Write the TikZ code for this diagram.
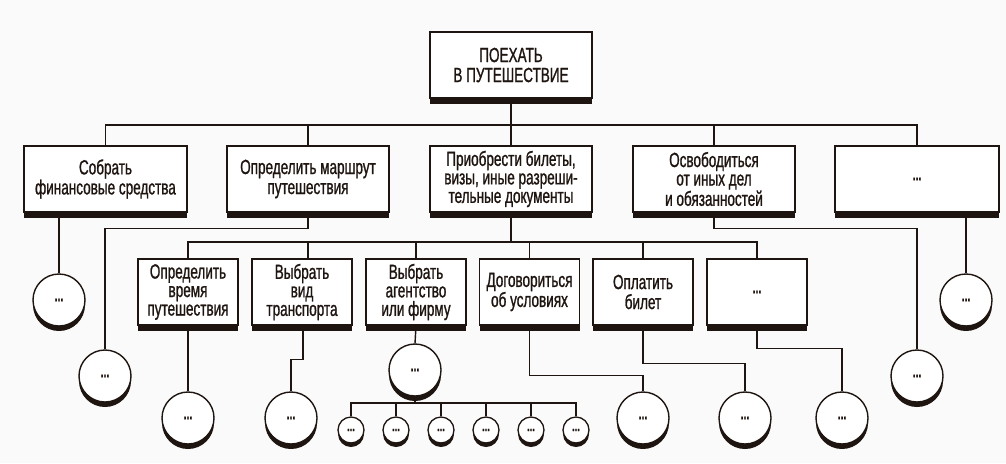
\documentclass[tikz,border=0pt]{standalone}
\usepackage{fontspec}
\setmainfont{Liberation Sans}[FakeStretch=0.66,FakeBold=1.0]
\usetikzlibrary{shadows,calc}
\definecolor{ink}{HTML}{1E1410}
\definecolor{bg}{HTML}{FAFAFA}
\begin{document}
\begin{tikzpicture}[x=1pt,y=-1pt,
  every node/.style={font=\fontsize{20.5}{20}\selectfont, text=ink},
  three/.style={font=\fontsize{20.5}{18.5}\selectfont},
  wbox/.style={draw=ink, line width=1.4pt, fill=white, rectangle, inner sep=0pt,
    align=center, minimum height=66pt,
    drop shadow={shadow xshift=0pt, shadow yshift=-5.5pt, opacity=1, fill=ink}},
  bigc/.style={draw=ink, line width=1.4pt, fill=white, circle, inner sep=0pt,
    minimum size=52pt, font=\fontsize{16}{16}\selectfont\bfseries,
    drop shadow={shadow xshift=0pt, shadow yshift=-5pt, opacity=1, fill=ink}},
  smallc/.style={draw=ink, line width=1.3pt, fill=white, circle, inner sep=0pt,
    minimum size=26pt, font=\fontsize{14}{14}\selectfont\bfseries,
    drop shadow={shadow xshift=0pt, shadow yshift=-4pt, opacity=1, fill=ink}},
  conn/.style={draw=ink, line width=1.4pt}]
\fill[bg] (0,0) rectangle (1006,463);
\useasboundingbox (0,0) rectangle (1006,463);

% top
\node[wbox, minimum width=162pt] (T) at (511,65) {ПОЕХАТЬ\\В ПУТЕШЕСТВИЕ};
% level 1
\node[wbox, minimum width=163pt] (A) at (105.5,179) {Собрать\\финансовые средства};
\node[wbox, minimum width=162pt] (B) at (308,179) {Определить маршрут\\путешествия};
\node[wbox, three, minimum width=162pt] (C) at (511,179) {Приобрести билеты,\\визы, иные разреши-\\тельные документы};
\node[wbox, three, minimum width=162pt] (D) at (714,179) {Освободиться\\от иных дел\\и обязанностей};
\node[wbox, minimum width=164pt] (E) at (917,179) {\fontsize{16}{16}\selectfont\bfseries ...};
% level 2
\node[wbox, three, minimum width=100pt] (F) at (188,292) {Определить\\время\\путешествия};
\node[wbox, three, minimum width=100pt] (G) at (302,292) {Выбрать\\вид\\транспорта};
\node[wbox, three, minimum width=100pt] (H) at (416,292) {Выбрать\\агентство\\или фирму};
\node[wbox, minimum width=100pt] (I) at (529.5,292) {Договориться\\об условиях};
\node[wbox, minimum width=100pt] (J) at (643,292) {Оплатить\\билет};
\node[wbox, minimum width=100pt] (K) at (757,292) {\fontsize{16}{16}\selectfont\bfseries ...};

% circles
\node[bigc] (cA) at (59,300) {...};
\node[bigc] (cB) at (105,376) {...};
\node[bigc] (cD) at (917,376) {...};
\node[bigc] (cE) at (966,300) {...};
\node[bigc] (cF) at (188,418) {...};
\node[bigc] (cG) at (291,418) {...};
\node[bigc] (cH) at (415,370) {...};
\node[bigc] (cI) at (643,418) {...};
\node[bigc] (cJ) at (745,418) {...};
\node[bigc] (cK) at (842,418) {...};
\foreach \i/\x in {1/351,2/396,3/441,4/486,5/531,6/576}
  \node[smallc] (s\i) at (\x,430) {...};

% buses
\coordinate (bus1) at (511,125);
\coordinate (bus2) at (511,242);
\coordinate (bus3) at (415,403);

\draw[conn] (T.south) -- (C.north);
\draw[conn] (A.north) |- (bus1) -| (E.north);
\draw[conn] (B.north) -- (B.north |- bus1);
\draw[conn] (D.north) -- (D.north |- bus1);

\draw[conn] (C.south) -- (bus2);
\draw[conn] (F.north) |- (bus2) -| (K.north);
\draw[conn] ([xshift=6pt]G.north) -- ([xshift=6pt]G.north |- bus2);
\draw[conn] (H.north) -- (H.north |- bus2);
\draw[conn] (I.north) -- (I.north |- bus2);
\draw[conn] (J.north) -- (J.north |- bus2);

\draw[conn] (cA.north |- A.south) -- (cA.north);
\draw[conn] (B.south) -- ++(0,16) -| (cB.north);
\draw[conn] (D.south) -- ++(0,16) -| (cD.north);
\draw[conn] (cE.north |- E.south) -- (cE.north);

\draw[conn] (F.south) -- (cF.north);
\draw[conn] ([xshift=1pt]G.south) -- ++(0,34) -| (cG.north);
\draw[conn] (H.south) -- (cH.north);
\draw[conn] (cH.south) -- (bus3);
\draw[conn] (s1.north) |- (bus3) -| (s6.north);
\foreach \i in {2,3,4,5}
  \draw[conn] (s\i.north) -- (s\i.north |- bus3);
\draw[conn] (I.south) -- ++(0,50) -| (cI.north);
\draw[conn] (J.south) -- ++(0,38) -| (cJ.north);
\draw[conn] (K.south) -- ++(0,23) -| (cK.north);
\end{tikzpicture}
\end{document}
